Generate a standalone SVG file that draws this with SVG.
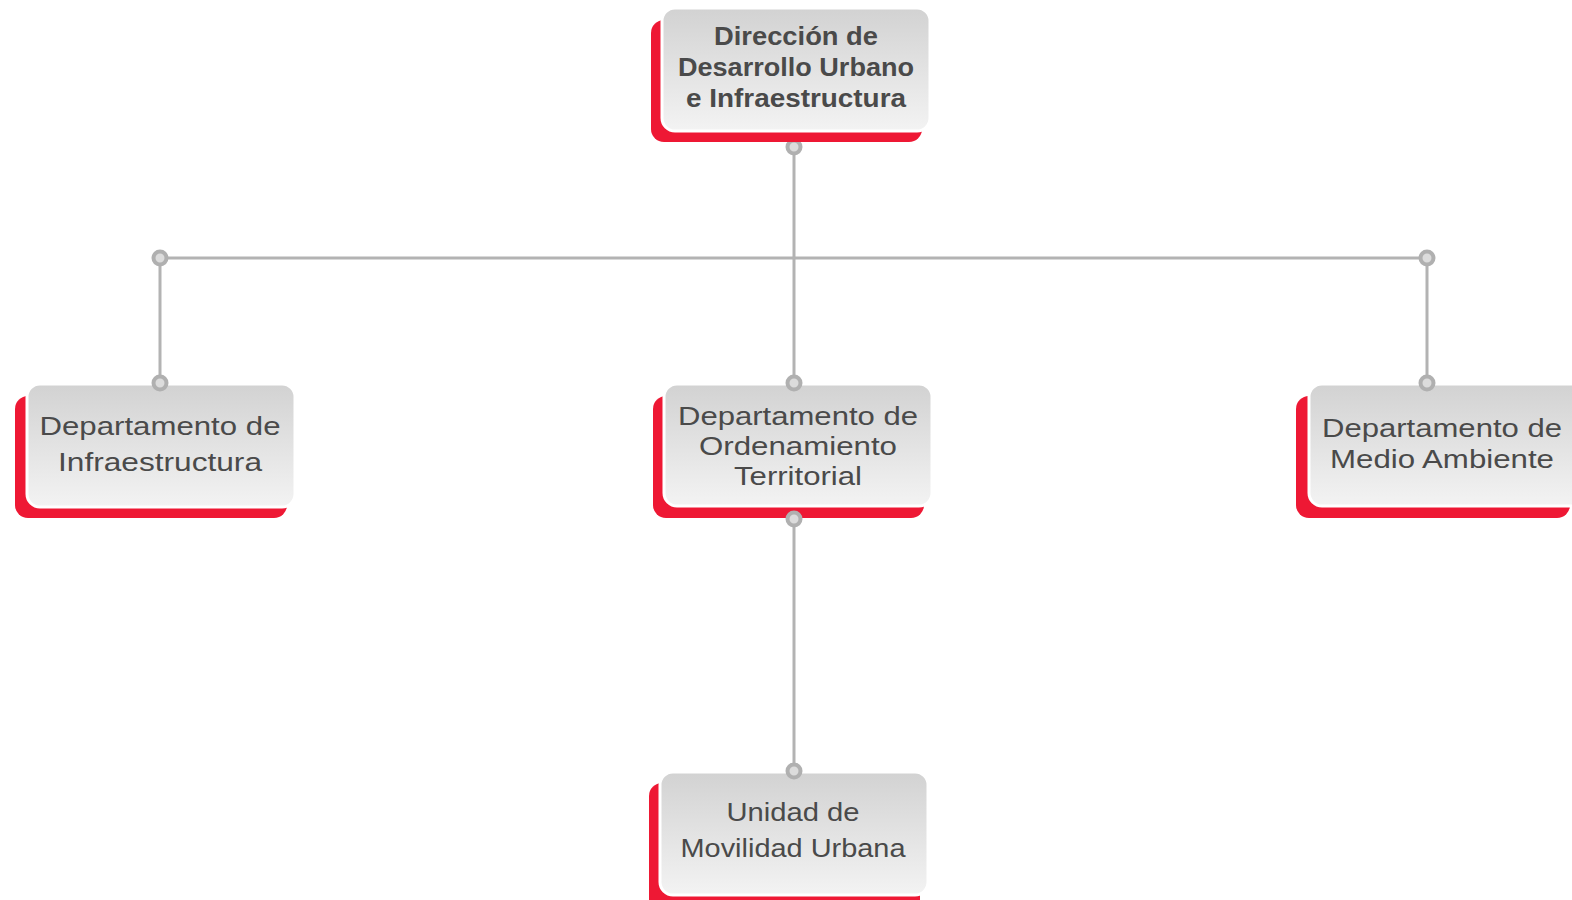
<svg xmlns="http://www.w3.org/2000/svg" width="1572" height="900" viewBox="0 0 1572 900">
<style>
.red{fill:#ee1834}
.box{fill:url(#g);stroke:#ffffff;stroke-width:3}
.t{font-family:"Liberation Sans","Open Sans",Arial,sans-serif;font-size:25px;fill:#4a4a4a;text-anchor:middle}
.b{font-weight:bold}
.ln{stroke:#b3b3b3;stroke-width:3;fill:none}
.dot{fill:#dcdcdc;stroke:#b0b0b0;stroke-width:4}
</style>
<defs>
<linearGradient id="g" x1="0" y1="0" x2="0" y2="1">
<stop offset="0" stop-color="#d2d2d2"/>
<stop offset="1" stop-color="#f3f3f3"/>
</linearGradient>
</defs>
<g id="connectors">
<path class="ln" d="M794,147 V383 M160,258 H1427 M160,258 V383 M1427,258 V383 M794,519 V771"/>
<circle class="dot" cx="794" cy="147" r="6.5"/>
<circle class="dot" cx="160" cy="258" r="6.5"/>
<circle class="dot" cx="1427" cy="258" r="6.5"/>
</g>
<g id="n0">
<rect class="red" x="651" y="20" width="271" height="122" rx="13"/>
<rect class="box" x="662" y="8" width="268" height="123" rx="13"/>
<text class="t b" x="796" y="45" textLength="164" lengthAdjust="spacingAndGlyphs">Dirección de</text>
<text class="t b" x="796" y="76" textLength="236" lengthAdjust="spacingAndGlyphs">Desarrollo Urbano</text>
<text class="t b" x="796" y="107" textLength="220" lengthAdjust="spacingAndGlyphs">e Infraestructura</text>
</g>
<g id="n1">
<rect class="red" x="15" y="396" width="272" height="122" rx="13"/>
<rect class="box" x="27" y="384" width="268" height="123" rx="13"/>
<text class="t" x="160" y="435" textLength="241" lengthAdjust="spacingAndGlyphs">Departamento de</text>
<text class="t" x="160" y="471" textLength="204" lengthAdjust="spacingAndGlyphs">Infraestructura</text>
<circle class="dot" cx="160" cy="383" r="6.5"/>
</g>
<g id="n2">
<rect class="red" x="653" y="396" width="271" height="122" rx="13"/>
<rect class="box" x="664" y="384" width="268" height="122" rx="13"/>
<text class="t" x="798" y="425" textLength="240" lengthAdjust="spacingAndGlyphs">Departamento de</text>
<text class="t" x="798" y="455" textLength="198" lengthAdjust="spacingAndGlyphs">Ordenamiento</text>
<text class="t" x="798" y="485" textLength="128" lengthAdjust="spacingAndGlyphs">Territorial</text>
<circle class="dot" cx="794" cy="383" r="6.5"/>
<circle class="dot" cx="794" cy="519" r="6.5"/>
</g>
<g id="n3">
<rect class="red" x="1296" y="396" width="274" height="122" rx="13"/>
<rect class="box" x="1309" y="384" width="275" height="122" rx="13"/>
<text class="t" x="1442" y="437" textLength="240" lengthAdjust="spacingAndGlyphs">Departamento de</text>
<text class="t" x="1442" y="468" textLength="224" lengthAdjust="spacingAndGlyphs">Medio Ambiente</text>
<circle class="dot" cx="1427" cy="383" r="6.5"/>
</g>
<g id="n4">
<rect class="red" x="649" y="783" width="271" height="130" rx="13"/>
<rect class="box" x="660" y="772" width="268" height="123" rx="13"/>
<text class="t" x="793" y="821" textLength="133" lengthAdjust="spacingAndGlyphs">Unidad de</text>
<text class="t" x="793" y="857" textLength="225" lengthAdjust="spacingAndGlyphs">Movilidad Urbana</text>
<circle class="dot" cx="794" cy="771" r="6.5"/>
</g>
</svg>
